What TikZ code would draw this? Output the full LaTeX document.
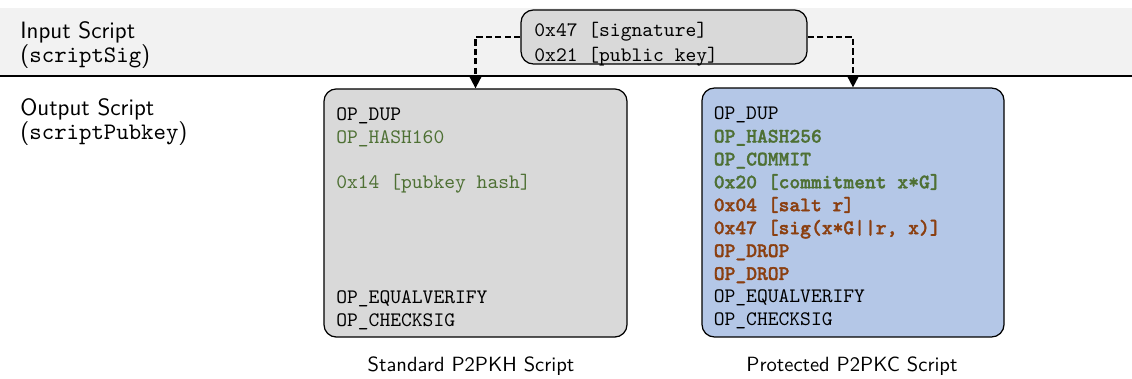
\documentclass[tikz,border=0pt]{standalone}
\usepackage{fontspec}
\setmonofont{lmmono10-regular.otf}[BoldFont=lmmonolt10-bold.otf, BoldFeatures={FakeBold=1.5}]
\usetikzlibrary{arrows.meta}

\definecolor{bandgray}{HTML}{F2F2F2}
\definecolor{boxgray}{HTML}{D9D9D9}
\definecolor{boxblue}{HTML}{B4C7E7}
\definecolor{opgreen}{HTML}{4E7034}
\definecolor{opbrown}{HTML}{8B3F10}

% full-width interword space for the monospaced listings
\newcommand{\ttspace}{\spaceskip=0.525em\relax\xspaceskip=0.525em\relax}

\tikzset{
  frame/.style={draw=black, line width=0.6pt, rounded corners=6pt, inner sep=0pt},
  listing/.style={inner sep=0pt, align=left, text width=135.3pt,
    font=\ttfamily\fontsize{10}{11.13}\selectfont,
    execute at begin node=\ttspace},
  siglisting/.style={inner sep=0pt, align=left, text width=126pt,
    font=\ttfamily\fontsize{10}{12.1}\selectfont,
    execute at begin node=\ttspace},
  rowlabel/.style={anchor=west, inner sep=0pt, align=left,
    font=\sffamily\fontsize{11.5}{11.5}\selectfont},
  caption/.style={inner sep=0pt, font=\sffamily\fontsize{10}{12}\selectfont},
  feed/.style={draw=black, line width=1pt, dash pattern=on 3pt off 1.6pt,
    -{Triangle[length=6pt,width=6pt]}},
}

\newcommand{\grn}[1]{\textcolor{opgreen}{#1}}
\newcommand{\bgrn}[1]{\textcolor{opgreen}{\bfseries #1}}
\newcommand{\bbrn}[1]{\textcolor{opbrown}{\bfseries #1}}

\begin{document}
\begin{tikzpicture}[x=0.4861pt, y=-0.4861pt]
  \useasboundingbox (0,0) rectangle (1132,379);

  % scriptSig band and separator
  \fill[bandgray] (0,8) rectangle (1132,76);
  \draw[line width=0.6pt] (0,76) -- (1132,76);

  % row labels
  \node[rowlabel] (inlbl) at (20,45) {Input Script\\(\texttt{scriptSig})};
  \node[rowlabel] (outlbl) at (20,122) {Output Script\\(\texttt{scriptPubkey})};

  % unlocking script
  \node[frame, fill=boxgray, minimum width=139pt, minimum height=26.25pt]
    (sig) at (664,37) {};
  \node[siglisting] (sigtxt) at (664,44) {0x47 [signature]\\0x21 [public key]};

  % standard locking script
  \node[frame, fill=boxgray, minimum width=147.3pt, minimum height=120.6pt]
    (std) at (475.5,213) {};
  \node[listing] (stdtxt) at (475.5,218.5) {%
    OP\_DUP\\
    \grn{OP\_HASH160}\\
    \mbox{}\\
    \grn{0x14 [pubkey hash]}\\
    \mbox{}\\
    \mbox{}\\
    \mbox{}\\
    \mbox{}\\
    OP\_EQUALVERIFY\\
    OP\_CHECKSIG};

  % protected locking script
  \node[frame, fill=boxblue, minimum width=146.8pt, minimum height=121pt]
    (prot) at (853,212.5) {};
  \node[listing] (prottxt) at (853,218) {%
    OP\_DUP\\
    \bgrn{OP\_HASH256}\\
    \bgrn{OP\_COMMIT}\\
    \bgrn{0x20 [commitment x*G]}\\
    \bbrn{0x04 [salt r]}\\
    \bbrn{0x47 [sig(x*G||r, x)]}\\
    \bbrn{OP\_DROP}\\
    \bbrn{OP\_DROP}\\
    OP\_EQUALVERIFY\\
    OP\_CHECKSIG};

  % captions
  \node[caption] (stdcap) at (471,366) {Standard P2PKH Script};
  \node[caption] (protcap) at (852,366) {Protected P2PKC Script};

  % the signature feeds both locking scripts
  \draw[feed] (sig.west) -| (std.north);
  \draw[feed] (sig.east) -| (prot.north);
\end{tikzpicture}
\end{document}
